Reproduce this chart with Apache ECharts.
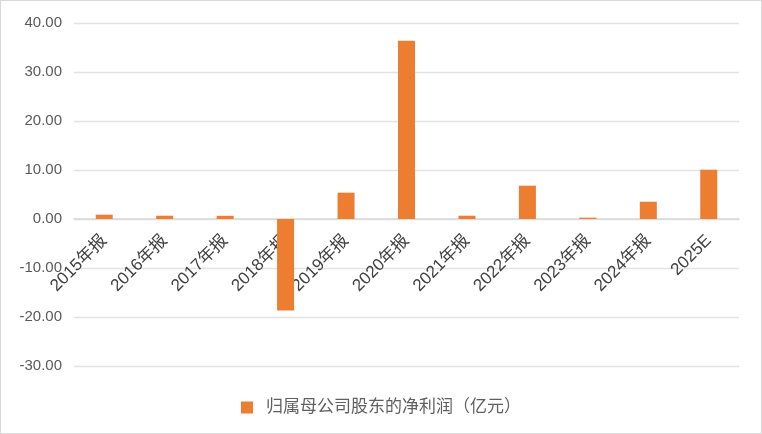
<!DOCTYPE html>
<html><head><meta charset="utf-8">
<script src="https://cdn.jsdelivr.net/npm/echarts@6/dist/echarts.min.js"></script>
<style>html,body{margin:0;padding:0;background:#fff}#c{width:760px;height:432px;border:1px solid #d9d9d9}</style>
</head><body><div id="c"></div>
<script>
var categories = ['2015年报','2016年报','2017年报','2018年报','2019年报','2020年报','2021年报','2022年报','2023年报','2024年报','2025E'];
var profit = [0.88, 0.67, 0.65, -18.65, 5.37, 36.4, 0.67, 6.8, 0.27, 3.53, 10.06];
var seriesName = '归属母公司股东的净利润（亿元）';
var chart = echarts.init(document.getElementById('c'));
var font = '"Liberation Sans", "Noto Sans CJK SC", sans-serif';
chart.setOption({
  animation: false,
  textStyle: {fontFamily: font},
  grid: {left: 73, right: 22, top: 22, bottom: 67, containLabel: false},
  legend: {top: 393, left: 'center', itemWidth: 12, itemHeight: 12, icon: 'rect', itemGap: 10,
    textStyle: {color: '#5f5f5f', fontSize: 17, padding: [0, 0, 0, 8], fontFamily: font}, data: [seriesName]},
  xAxis: {type: 'category', data: categories, offset: -147,
    axisLine: {onZero: false, lineStyle: {color: '#d9d9d9', width: 1.5}},
    axisTick: {show: false},
    axisLabel: {rotate: 45, interval: 0, color: '#404040', fontSize: 17, margin: 19, fontFamily: font}},
  yAxis: {type: 'value', min: -30, max: 40, interval: 10,
    axisLine: {show: false}, axisTick: {show: false},
    splitLine: {lineStyle: {color: '#e3e3e3', width: 1.3}},
    axisLabel: {formatter: function(v){return v.toFixed(2);}, color: '#595959', fontSize: 15, margin: 12, fontFamily: font}},
  series: [{name: seriesName, type: 'bar', data: profit, barWidth: 17,
    itemStyle: {color: '#ED7D31'}}]
});
</script></body></html>
